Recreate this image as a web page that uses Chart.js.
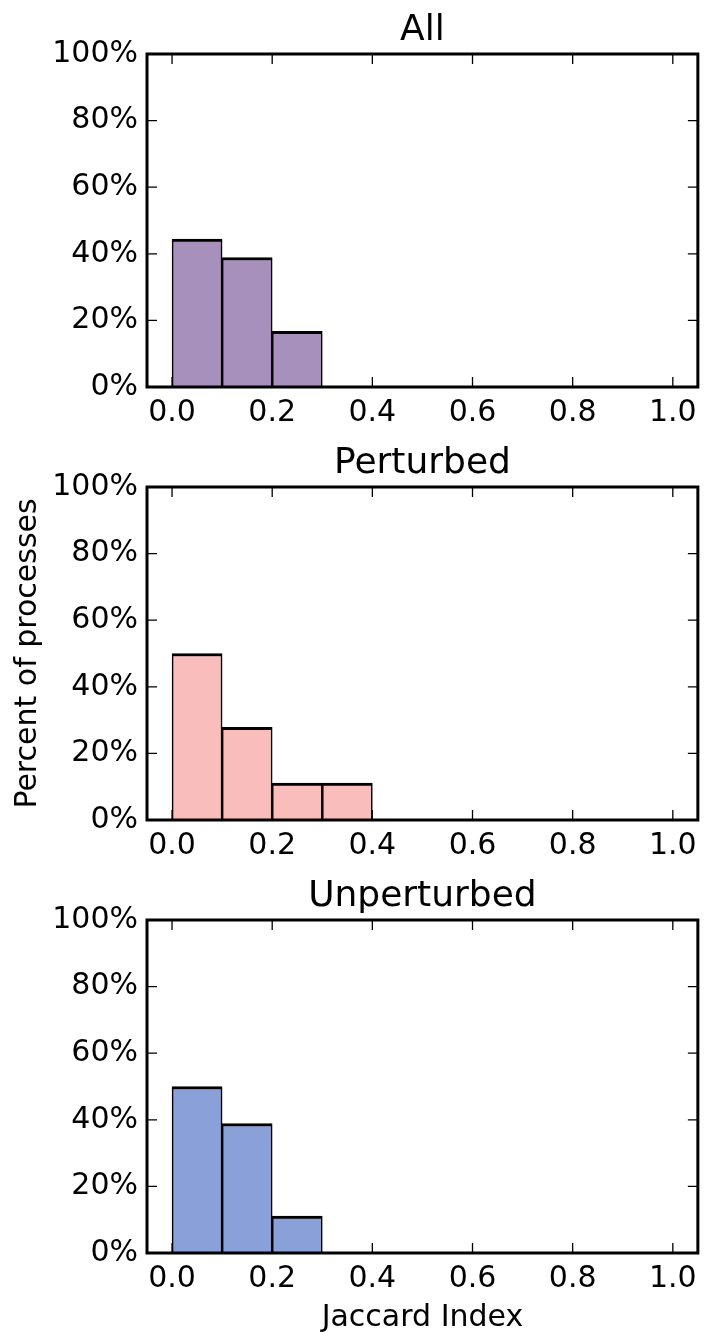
<!DOCTYPE html>
<html lang="en">
  <head>
    <meta charset="UTF-8" />
    <title>Jaccard Index histograms</title>
    <script src="https://cdn.jsdelivr.net/npm/chart.js"></script>
    <style>
      body { margin: 0; background: #fff; }
      #wrap { position: relative; width: 705px; height: 1332px; }
      canvas { position: absolute; left: 0; }
    </style>
  </head>
  <body>
    <div id="wrap">
      <canvas id="chart-all" width="705" height="433" style="top:0"></canvas>
      <canvas id="chart-perturbed" width="705" height="433" style="top:433px"></canvas>
      <canvas id="chart-unperturbed" width="705" height="466" style="top:866px"></canvas>
    </div>
    <script>
      // histogram bins (width 0.1) and percent of processes in each
      const binCenters = [0.05, 0.15, 0.25, 0.35, 0.45, 0.55, 0.65, 0.75, 0.85, 0.95];
      const allPct = [44.4, 38.9, 16.7, 0, 0, 0, 0, 0, 0, 0];
      const perturbedPct = [50.0, 27.8, 11.1, 11.1, 0, 0, 0, 0, 0, 0];
      const unperturbedPct = [50.0, 38.9, 11.1, 0, 0, 0, 0, 0, 0, 0];
      const xTicks = [0, 0.2, 0.4, 0.6, 0.8, 1.0];
      const yTicks = [0, 20, 40, 60, 80, 100];
      const panelTitles = ["All", "Perturbed", "Unperturbed"];

      const FONT = "'DejaVu Sans', sans-serif";

      // inward ticks on all four sides + box frame (matplotlib classic look)
      const frameTicks = {
        id: "frameTicks",
        afterDatasetsDraw(chart) {
          const { ctx, chartArea: a, scales } = chart;
          const x = scales.x, y = scales.y;
          ctx.save();
          ctx.strokeStyle = "#000";
          ctx.lineWidth = 1.3;
          ctx.beginPath();
          x.ticks.forEach((t) => {
            const px = x.getPixelForValue(t.value);
            ctx.moveTo(px, a.bottom);
            ctx.lineTo(px, a.bottom - 10);
            ctx.moveTo(px, a.top);
            ctx.lineTo(px, a.top + 10);
          });
          y.ticks.forEach((t) => {
            const py = y.getPixelForValue(t.value);
            ctx.moveTo(a.left, py);
            ctx.lineTo(a.left + 10, py);
            ctx.moveTo(a.right, py);
            ctx.lineTo(a.right - 10, py);
          });
          ctx.stroke();
          ctx.lineWidth = 3;
          ctx.strokeRect(a.left, a.top, a.width, a.height);
          ctx.restore();
        },
      };

      function makePanel(id, title, values, color, opts) {
        const ctx = document.getElementById(id).getContext("2d");
        return new Chart(ctx, {
          type: "bar",
          data: {
            datasets: [
              {
                data: binCenters.map((c, i) => ({ x: c, y: values[i] })),
                backgroundColor: color,
                borderColor: "#000",
                borderWidth: { top: 3, left: 1.6, right: 1.6, bottom: 0 },
                borderSkipped: false,
                barPercentage: 1,
                categoryPercentage: 1,
              },
            ],
          },
          options: {
            responsive: false,
            animation: false,
            devicePixelRatio: 1,
            layout: { padding: { left: 0, right: 6, top: 0, bottom: 0 } },
            plugins: {
              legend: { display: false },
              tooltip: { enabled: false },
              title: {
                display: true,
                text: title,
                fullSize: false,
                color: "#000",
                font: { family: FONT, size: 36, weight: "normal", lineHeight: 1.2 },
                padding: { top: 9, bottom: 1.8 },
              },
            },
            scales: {
              x: {
                type: "linear",
                min: -0.05,
                max: 1.05,
                offset: false,
                grid: { display: false, drawTicks: false },
                border: { display: false },
                afterBuildTicks: (s) => {
                  s.ticks = xTicks.map((v) => ({ value: v }));
                },
                afterFit: (s) => {
                  s.height = opts.xHeight;
                },
                ticks: {
                  autoSkip: false,
                  maxRotation: 0,
                  padding: 8,
                  color: "#000",
                  font: { family: FONT, size: 30 },
                  callback: (v) => Number(v).toFixed(1),
                },
                title: {
                  display: !!opts.xTitle,
                  text: opts.xTitle || "",
                  color: "#000",
                  font: { family: FONT, size: 30 },
                  padding: { top: 0, bottom: -4 },
                },
              },
              y: {
                min: 0,
                max: 100,
                grid: { display: false, drawTicks: false },
                border: { display: false },
                afterBuildTicks: (s) => {
                  s.ticks = yTicks.map((v) => ({ value: v }));
                },
                afterFit: (s) => {
                  s.width = 147;
                },
                ticks: {
                  padding: 9,
                  color: "#000",
                  font: { family: FONT, size: 30 },
                  callback: (v) => v + "%",
                },
                title: {
                  display: !!opts.yTitle,
                  text: opts.yTitle || "",
                  color: "#000",
                  font: { family: FONT, size: 30 },
                  padding: { top: 10, bottom: 0 },
                },
              },
            },
          },
          plugins: [frameTicks],
        });
      }

      makePanel("chart-all", panelTitles[0], allPct, "#a890bd", { xHeight: 46 });
      makePanel("chart-perturbed", panelTitles[1], perturbedPct, "#f9bebb", {
        xHeight: 46,
        yTitle: "Percent of processes",
      });
      makePanel("chart-unperturbed", panelTitles[2], unperturbedPct, "#8aa0d9", {
        xHeight: 79,
        xTitle: "Jaccard Index",
      });
    </script>
  </body>
</html>
